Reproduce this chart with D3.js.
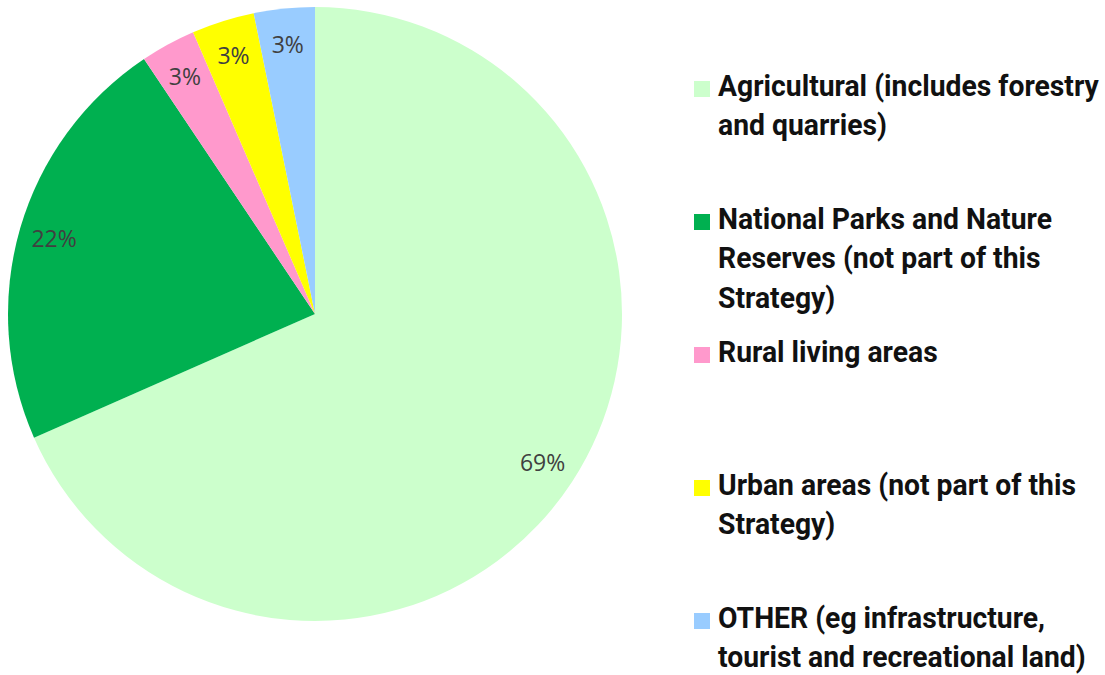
<!DOCTYPE html>
<html><head><meta charset="utf-8">
<script src="https://cdn.jsdelivr.net/npm/d3@7"></script>
<style>
html,body{margin:0;padding:0;background:#fff;}
svg{display:block;}
.leg{font-family:"Roboto","Liberation Sans",sans-serif;font-weight:bold;fill:#111;}
.lab{font-family:"Open Sans","Liberation Sans",sans-serif;fill:#404040;}
</style></head>
<body>
<svg id="chart" width="1105" height="675"></svg>
<script>
const categories = [
  "Agricultural (includes forestry and quarries)",
  "National Parks and Nature Reserves (not part of this Strategy)",
  "Rural living areas",
  "Urban areas (not part of this Strategy)",
  "OTHER (eg infrastructure, tourist and recreational land)"
];
const legendLines = [
  ["Agricultural (includes forestry", "and quarries)"],
  ["National Parks and Nature", "Reserves (not part of this", "Strategy)"],
  ["Rural living areas"],
  ["Urban areas (not part of this", "Strategy)"],
  ["OTHER (eg infrastructure,", "tourist and recreational land)"]
];
const values = [68.4, 22.2, 2.9, 3.3, 3.2];
const labels = ["69%", "22%", "3%", "3%", "3%"];
const colors = ["#CCFFCC", "#00B050", "#FF99CC", "#FFFF00", "#99CCFF"];

const svg = d3.select("#chart");
const cx = 315, cy = 314, r = 307;
const color = d3.scaleOrdinal().domain(d3.range(values.length)).range(colors);

const pie = d3.pie().sort(null).value(d => d)(values);
const arc = d3.arc().innerRadius(0).outerRadius(r);
const labelArc = d3.arc().innerRadius(r * 0.885).outerRadius(r * 0.885);

const g = svg.append("g").attr("transform", `translate(${cx},${cy})`);
g.selectAll("path").data(pie).enter().append("path")
  .attr("d", arc).attr("fill", (d, i) => color(i));

g.selectAll("text").data(pie).enter().append("text")
  .attr("class", "lab")
  .attr("transform", d => `translate(${labelArc.centroid(d)})`)
  .attr("text-anchor", "middle").attr("dominant-baseline", "central")
  .attr("font-size", 23)
  .text((d, i) => labels[i]);

// legend
const legendY = d3.scalePoint().domain(d3.range(categories.length)).range([96, 628]);
const lg = svg.append("g");
const items = lg.selectAll("g").data(legendLines).enter().append("g")
  .attr("transform", (d, i) => `translate(694,${legendY(i)})`);
items.append("rect").attr("x", 0).attr("y", -15).attr("width", 16).attr("height", 16)
  .attr("fill", (d, i) => color(i));
const texts = [];
items.each(function(lines) {
  const t = d3.select(this).append("g").attr("transform", "translate(24,0)")
    .append("text").attr("class", "leg").attr("font-size", 30);
  lines.forEach((ln, j) => {
    t.append("tspan").attr("x", 0).attr("y", j * 39.5).text(ln);
  });
  texts.push(t);
});
// condense text horizontally so the widest line fits like the reference
let maxW = 0;
texts.forEach(t => t.selectAll("tspan").each(function(){ maxW = Math.max(maxW, this.getComputedTextLength()); }));
const sx = 381 / maxW;
texts.forEach(t => t.attr("transform", `scale(${sx},1)`));
</script>
</body></html>
